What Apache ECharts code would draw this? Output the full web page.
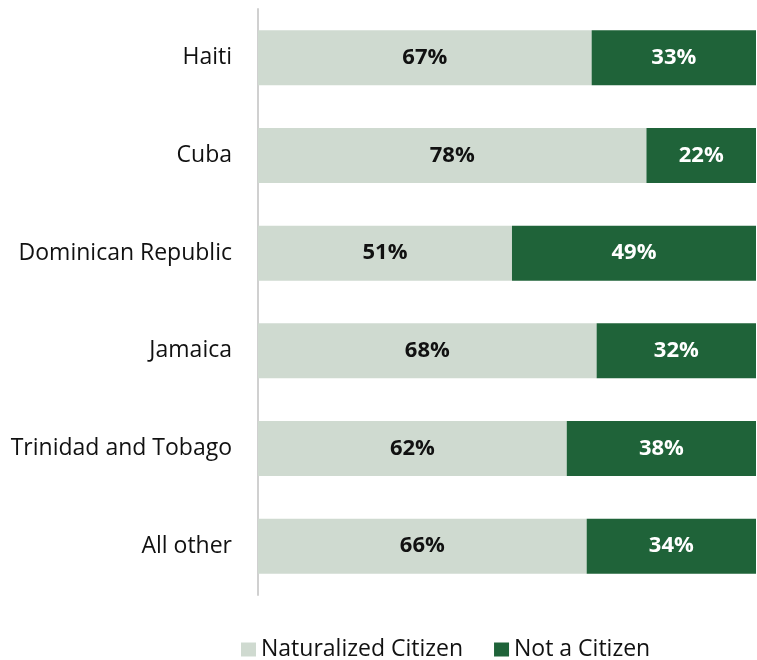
<!DOCTYPE html>
<html>
<head>
<meta charset="utf-8">
<script src="https://cdn.jsdelivr.net/npm/echarts@6/dist/echarts.min.js"></script>
<style>html,body{margin:0;padding:0;background:#fff}#c{width:757px;height:660px}</style>
</head>
<body>
<div id="c"></div>
<script>
const categories = ["Haiti", "Cuba", "Dominican Republic", "Jamaica", "Trinidad and Tobago", "All other"];
const naturalized = [67, 78, 51, 68, 62, 66];
const notCitizen = [33, 22, 49, 32, 38, 34];

const chart = echarts.init(document.getElementById('c'));
const font = '"Open Sans", sans-serif';
chart.setOption({
  animation: false,
  grid: { left: 258, right: 1, top: 9, bottom: 65, containLabel: false },
  legend: {
    left: 236, top: 633, itemWidth: 15, itemHeight: 14, itemGap: 31,
    textStyle: { fontFamily: font, fontSize: 23, color: '#111' },
    icon: 'rect',
    data: ['Naturalized Citizen', 'Not a Citizen']
  },
  xAxis: { type: 'value', min: 0, max: 100, show: false },
  yAxis: {
    type: 'category', inverse: true, data: categories,
    axisLine: { show: true, lineStyle: { color: '#d0d0d0', width: 2 } },
    axisTick: { show: false },
    axisLabel: { fontFamily: font, fontSize: 23, color: '#111', margin: 26 }
  },
  series: [
    {
      name: 'Naturalized Citizen', type: 'bar', stack: 't', barWidth: 55,
      data: naturalized,
      itemStyle: { color: '#CFDAD0' },
      label: { show: true, position: 'inside', formatter: '{c}%', fontFamily: font, fontSize: 22, fontWeight: 'bold', color: '#111' }
    },
    {
      name: 'Not a Citizen', type: 'bar', stack: 't', barWidth: 55,
      data: notCitizen,
      itemStyle: { color: '#1F6339' },
      label: { show: true, position: 'inside', formatter: '{c}%', fontFamily: font, fontSize: 22, fontWeight: 'bold', color: '#fff' }
    }
  ]
});
</script>
</body>
</html>
